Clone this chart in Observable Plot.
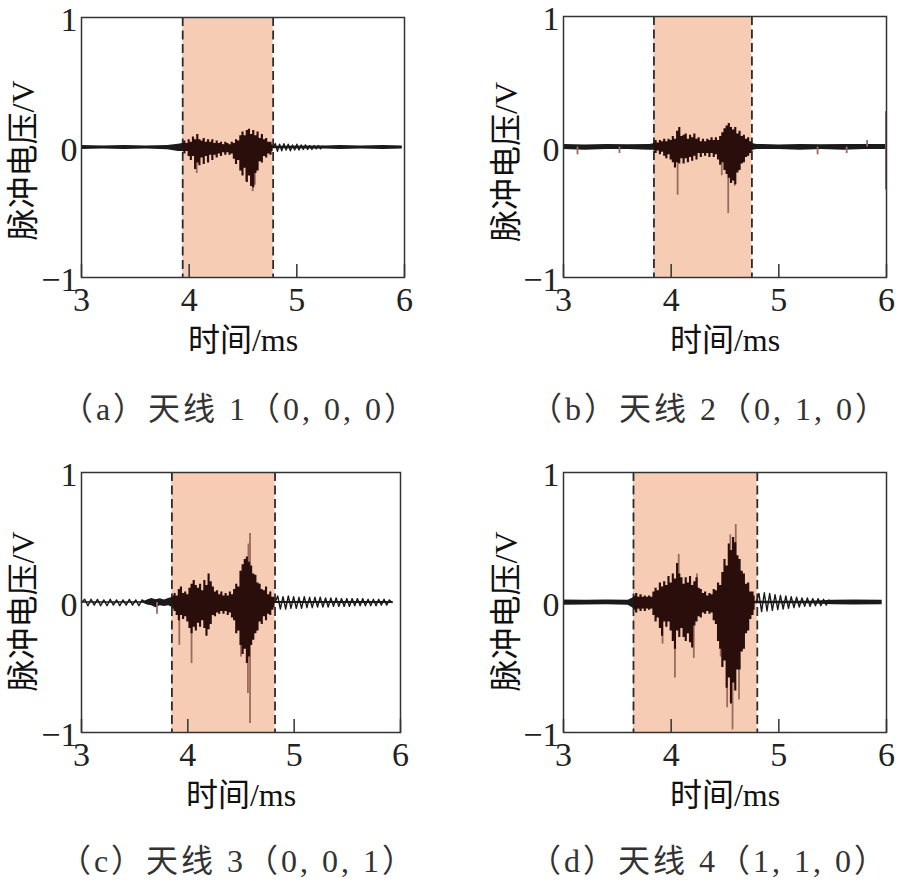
<!DOCTYPE html>
<html><head><meta charset="utf-8">
<script src="https://cdn.jsdelivr.net/npm/d3@7"></script>
<script src="https://cdn.jsdelivr.net/npm/@observablehq/plot@0.6"></script>
<style>
html,body{margin:0;padding:0;background:#fff;}
#root{position:relative;width:909px;height:886px;overflow:hidden;}
.panel{position:absolute;}
.cap{position:absolute;transform:translate(-50%,-50%);white-space:nowrap;font-family:'Liberation Serif','Noto Sans CJK SC',serif;font-size:32px;letter-spacing:3px;color:#333;}
</style></head><body><div id="root"></div>
<script>
// ---------- shared labels / ticks ----------
const xTicks = [3, 4, 5, 6];
const yTicks = [-1, 0, 1];
const xDomain = [3, 6];
const yDomain = [-1, 1];
const xLabel = "时间/ms";
const yLabel = "脉冲电压/V";
const captions = ["（a）天线 1（0, 0, 0）", "（b）天线 2（0, 1, 0）", "（c）天线 3（0, 0, 1）", "（d）天线 4（1, 1, 0）"];
const shadeStart = [3.94, 3.84, 3.85, 3.65];
const shadeEnd = [4.78, 4.75, 4.82, 4.80];

// ---------- panel (a) ----------
const aT = [3.94,3.96,3.98,4.00,4.02,4.04,4.06,4.08,4.10,4.12,4.14,4.16,4.18,4.20,4.22,4.24,4.26,4.28,4.30,4.32,4.34,4.36,4.38,4.40,4.42,4.44,4.46,4.48,4.50,4.52,4.54,4.56,4.58,4.60,4.62,4.64,4.66,4.68,4.70,4.72,4.74,4.76,4.78];
const aHi = [0.03,0.05,0.03,0.06,0.04,0.08,0.06,0.10,0.06,0.05,0.07,0.04,0.06,0.04,0.06,0.03,0.05,0.03,0.04,0.02,0.04,0.03,0.02,0.04,0.03,0.06,0.05,0.09,0.12,0.09,0.13,0.14,0.10,0.13,0.09,0.12,0.07,0.10,0.06,0.07,0.04,0.04,0.02];
const aLo = [-0.03,-0.05,-0.03,-0.07,-0.10,-0.07,-0.17,-0.12,-0.14,-0.08,-0.13,-0.07,-0.12,-0.06,-0.10,-0.06,-0.08,-0.05,-0.07,-0.04,-0.06,-0.04,-0.06,-0.05,-0.09,-0.13,-0.10,-0.18,-0.22,-0.16,-0.27,-0.22,-0.30,-0.31,-0.20,-0.18,-0.11,-0.12,-0.07,-0.08,-0.05,-0.06,-0.03];
const aBgT = [3.00,3.20,3.40,3.60,3.80,3.90,3.94,4.78,5.26,5.40,5.60,5.80,5.98];
const aBgHi = [0.015,0.012,0.015,0.012,0.015,0.025,0.03,0.01,0.012,0.015,0.012,0.015,0.012];
const aBgLo = [-0.015,-0.012,-0.015,-0.012,-0.018,-0.03,-0.03,-0.01,-0.012,-0.015,-0.012,-0.015,-0.012];
const aOscT = [4.78,4.80,4.82,4.84,4.86,4.88,4.90,4.92,4.94,4.96,4.98,5.00,5.02,5.04,5.06,5.08,5.10,5.12,5.14,5.16,5.18,5.20,5.22,5.24,5.26];
const aOscV = [0,0.03,-0.03,0.025,-0.025,0.03,-0.02,0.025,-0.025,0.02,-0.02,0.025,-0.02,0.02,-0.015,0.02,-0.015,0.015,-0.015,0.015,-0.01,0.015,-0.01,0.01,0];
const aSpikeT = [4.07, 4.53, 4.59, 4.61];
const aSpikeV = [-0.20, -0.26, -0.34, -0.29];

// ---------- panel (b) ----------
const bT = [3.84,3.86,3.88,3.90,3.92,3.94,3.96,3.98,4.00,4.02,4.04,4.06,4.08,4.10,4.12,4.14,4.16,4.18,4.20,4.22,4.24,4.26,4.28,4.30,4.32,4.34,4.36,4.38,4.40,4.42,4.44,4.46,4.48,4.50,4.52,4.54,4.56,4.58,4.60,4.62,4.64,4.66,4.68,4.70,4.72,4.74,4.76];
const bHi = [0.03,0.05,0.03,0.05,0.04,0.06,0.04,0.06,0.05,0.08,0.06,0.12,0.15,0.08,0.09,0.10,0.06,0.09,0.07,0.10,0.06,0.07,0.04,0.06,0.04,0.06,0.05,0.07,0.05,0.07,0.05,0.08,0.11,0.14,0.16,0.18,0.15,0.13,0.15,0.10,0.12,0.08,0.09,0.06,0.07,0.04,0.03];
const bLo = [-0.03,-0.05,-0.03,-0.06,-0.04,-0.07,-0.09,-0.06,-0.10,-0.12,-0.16,-0.12,-0.13,-0.09,-0.13,-0.09,-0.12,-0.08,-0.11,-0.07,-0.10,-0.05,-0.08,-0.05,-0.07,-0.05,-0.08,-0.05,-0.08,-0.06,-0.10,-0.14,-0.12,-0.18,-0.21,-0.24,-0.28,-0.26,-0.29,-0.20,-0.18,-0.13,-0.12,-0.08,-0.07,-0.05,-0.03];
const bBgT = [3.00,3.20,3.40,3.60,3.80,3.84,4.76,4.80,5.00,5.20,5.40,5.60,5.80,6.00];
const bBgHi = [0.02,0.016,0.02,0.018,0.02,0.025,0.025,0.02,0.016,0.02,0.018,0.02,0.02,0.02];
const bBgLo = [-0.02,-0.024,-0.02,-0.02,-0.024,-0.025,-0.025,-0.02,-0.02,-0.024,-0.02,-0.024,-0.02,-0.02];
const bSpikeT = [3.13, 3.52, 4.06, 4.47, 4.53, 4.59, 5.36, 5.63, 5.82, 5.995, 5.995];
const bSpikeV = [-0.06, -0.05, -0.37, -0.22, -0.51, -0.30, -0.06, -0.05, 0.05, 0.27, -0.33];

// ---------- panel (c) ----------
const cT = [3.86,3.88,3.90,3.92,3.94,3.96,3.98,4.00,4.02,4.04,4.06,4.08,4.10,4.12,4.14,4.16,4.18,4.20,4.22,4.24,4.26,4.28,4.30,4.32,4.34,4.36,4.38,4.40,4.42,4.44,4.46,4.48,4.50,4.52,4.54,4.56,4.58,4.60,4.62,4.64,4.66,4.68,4.70,4.72,4.74,4.76,4.78,4.80,4.82];
const cHi = [0.05,0.07,0.05,0.10,0.12,0.07,0.08,0.06,0.11,0.14,0.17,0.13,0.11,0.14,0.09,0.17,0.13,0.22,0.16,0.12,0.08,0.09,0.06,0.08,0.05,0.07,0.05,0.08,0.06,0.10,0.14,0.12,0.24,0.29,0.33,0.35,0.31,0.28,0.22,0.21,0.15,0.14,0.10,0.09,0.12,0.06,0.08,0.04,0.04];
const cLo = [-0.05,-0.07,-0.10,-0.14,-0.10,-0.13,-0.11,-0.15,-0.20,-0.24,-0.19,-0.22,-0.16,-0.19,-0.14,-0.20,-0.26,-0.21,-0.17,-0.10,-0.11,-0.08,-0.09,-0.07,-0.09,-0.07,-0.10,-0.08,-0.12,-0.14,-0.24,-0.22,-0.33,-0.40,-0.36,-0.47,-0.42,-0.33,-0.29,-0.24,-0.22,-0.15,-0.17,-0.11,-0.14,-0.09,-0.10,-0.06,-0.04];
const cBgT = [3.00,3.58,3.62,3.66,3.70,3.74,3.78,3.82,3.86,4.82,4.84,5.93];
const cBgHi = [0.006,0.006,0.02,0.03,0.022,0.028,0.02,0.03,0.04,0.008,0.008,0.008];
const cBgLo = [-0.006,-0.006,-0.02,-0.025,-0.04,-0.025,-0.03,-0.025,-0.04,-0.008,-0.008,-0.008];
const cPreT = [3.00,3.03,3.06,3.09,3.12,3.15,3.18,3.21,3.24,3.27,3.30,3.33,3.36,3.39,3.42,3.45,3.48,3.51,3.54,3.57,3.60];
const cPreV = [0,0.025,-0.025,0.025,-0.02,0.025,-0.025,0.02,-0.025,0.025,-0.02,0.02,-0.025,0.02,-0.02,0.025,-0.02,0.02,-0.025,0.02,0];
const cPostT = [4.82,4.845,4.87,4.895,4.92,4.945,4.97,4.995,5.02,5.045,5.07,5.095,5.12,5.145,5.17,5.195,5.22,5.245,5.27,5.295,5.32,5.345,5.37,5.395,5.42,5.445,5.47,5.495,5.52,5.545,5.57,5.595,5.62,5.645,5.67,5.695,5.72,5.745,5.77,5.795,5.82,5.845,5.87,5.895,5.92];
const cPostV = [0,0.05,-0.05,0.045,-0.05,0.05,-0.045,0.045,-0.045,0.04,-0.045,0.045,-0.04,0.04,-0.04,0.04,-0.035,0.04,-0.035,0.035,-0.035,0.035,-0.03,0.035,-0.03,0.03,-0.03,0.03,-0.03,0.03,-0.025,0.03,-0.025,0.03,-0.025,0.025,-0.025,0.025,-0.025,0.025,-0.02,0.025,-0.02,0.02,0];
const cSpikeT = [3.71, 3.92, 4.035, 4.50, 4.565, 4.585, 4.585, 4.57];
const cSpikeV = [-0.09, -0.33, -0.47, -0.42, -0.70, -0.93, 0.53, 0.45];

// ---------- panel (d) ----------
const dT = [3.66,3.68,3.70,3.72,3.74,3.76,3.78,3.80,3.82,3.84,3.86,3.88,3.90,3.92,3.94,3.96,3.98,4.00,4.02,4.04,4.06,4.08,4.10,4.12,4.14,4.16,4.18,4.20,4.22,4.24,4.26,4.28,4.30,4.32,4.34,4.36,4.38,4.40,4.42,4.44,4.46,4.48,4.50,4.52,4.54,4.56,4.58,4.60,4.62,4.64,4.66,4.68,4.70,4.72,4.74,4.76,4.78];
const dHi = [0.05,0.07,0.04,0.06,0.04,0.05,0.04,0.05,0.04,0.08,0.11,0.09,0.15,0.12,0.16,0.13,0.20,0.15,0.22,0.18,0.30,0.22,0.19,0.14,0.19,0.15,0.20,0.13,0.16,0.19,0.11,0.10,0.07,0.08,0.05,0.07,0.06,0.10,0.09,0.15,0.13,0.23,0.33,0.28,0.45,0.40,0.50,0.46,0.36,0.33,0.24,0.22,0.14,0.15,0.08,0.08,0.05];
const dLo = [-0.06,-0.08,-0.05,-0.07,-0.05,-0.07,-0.05,-0.06,-0.05,-0.10,-0.15,-0.12,-0.20,-0.26,-0.15,-0.19,-0.15,-0.22,-0.30,-0.36,-0.22,-0.27,-0.20,-0.27,-0.30,-0.24,-0.31,-0.35,-0.18,-0.15,-0.11,-0.12,-0.08,-0.09,-0.07,-0.09,-0.08,-0.14,-0.17,-0.30,-0.36,-0.50,-0.45,-0.66,-0.58,-0.78,-0.62,-0.68,-0.52,-0.52,-0.38,-0.36,-0.24,-0.22,-0.13,-0.10,-0.06];
const dBgT = [3.00,3.20,3.40,3.60,3.66,4.78,4.80,5.30,5.50,5.70,5.96];
const dBgHi = [0.02,0.018,0.02,0.018,0.04,0.01,0.01,0.01,0.018,0.02,0.018];
const dBgLo = [-0.022,-0.02,-0.018,-0.022,-0.05,-0.01,-0.01,-0.01,-0.018,-0.02,-0.018];
const dOscT = [4.79,4.815,4.84,4.865,4.89,4.915,4.94,4.965,4.99,5.015,5.04,5.065,5.09,5.115,5.14,5.165,5.19,5.215,5.24,5.265,5.29,5.315,5.34,5.365,5.39,5.415,5.44,5.465,5.49];
const dOscV = [0,0.07,-0.07,0.075,-0.065,0.07,-0.06,0.06,-0.055,0.055,-0.05,0.05,-0.045,0.045,-0.04,0.04,-0.035,0.035,-0.03,0.035,-0.03,0.03,-0.025,0.03,-0.025,0.025,-0.02,0.02,0];
const dSpikeT = [3.92, 4.035, 4.07, 4.21, 4.24, 4.46, 4.52, 4.57, 4.60, 4.55, 4.63];
const dSpikeV = [-0.32, -0.58, 0.37, -0.43, 0.22, -0.42, -0.81, -0.98, 0.60, 0.52, -0.75];

// ---------- styling / layout ----------
const FONT = "'Liberation Serif', 'Noto Sans CJK SC', serif";
const SHADE = "#f7ccb5";
const BURST = "#2a0e0b";
const SPIKE = "#9a6a5c";
const INK = "#1a1a1a";

const zip3 = (T, A, B) => T.map((t, i) => ({t, hi: A[i], lo: B[i]}));
const zip2 = (T, V) => T.map((t, i) => ({t, v: V[i]}));

const panels = [
  {left: 0, top: 0, width: 450, height: 370, ml: 81, mr: 46, mt: 17, mb: 93, ylDx: -58, ylDy: 13, cx: 240, cy: 406,
   burst: zip3(aT, aHi, aLo), bg: zip3(aBgT, aBgHi, aBgLo), osc: [zip2(aOscT, aOscV)], spikes: zip2(aSpikeT, aSpikeV)},
  {left: 450, top: 0, width: 459, height: 370, ml: 113, mr: 23, mt: 16, mb: 93, ylDx: -57, ylDy: 15, cx: 710, cy: 406,
   burst: zip3(bT, bHi, bLo), bg: zip3(bBgT, bBgHi, bBgLo), osc: [], spikes: zip2(bSpikeT, bSpikeV)},
  {left: 0, top: 440, width: 450, height: 380, ml: 81, mr: 50, mt: 32, mb: 88, ylDx: -58, ylDy: 9, cx: 238, cy: 858,
   burst: zip3(cT, cHi, cLo), bg: zip3(cBgT, cBgHi, cBgLo), osc: [zip2(cPreT, cPreV), zip2(cPostT, cPostV)], spikes: zip2(cSpikeT, cSpikeV)},
  {left: 450, top: 440, width: 459, height: 380, ml: 113, mr: 23, mt: 32, mb: 88, ylDx: -57, ylDy: 9, cx: 709, cy: 858,
   burst: zip3(dT, dHi, dLo), bg: zip3(dBgT, dBgHi, dBgLo), osc: [zip2(dOscT, dOscV)], spikes: zip2(dSpikeT, dSpikeV)}
];

const root = document.getElementById("root");
panels.forEach((p, k) => {
  const plotH = p.height - p.mt - p.mb;
  const shade = [{s: shadeStart[k], e: shadeEnd[k]}];
  const chart = Plot.plot({
    width: p.width, height: p.height,
    marginLeft: p.ml, marginRight: p.mr, marginTop: p.mt, marginBottom: p.mb,
    style: {fontFamily: FONT, fontSize: "34px", color: "#222", background: "transparent", overflow: "visible"},
    x: {domain: xDomain, ticks: xTicks},
    y: {domain: yDomain, ticks: yTicks},
    marks: [
      Plot.rect(shade, {x1: "s", x2: "e", y1: () => yDomain[0], y2: () => yDomain[1], fill: SHADE}),
      Plot.ruleX([shade[0].s, shade[0].e], {x: d => d, stroke: "#2b2b2b", strokeWidth: 1.8, strokeDasharray: "9,4.5"}),
      Plot.areaY(p.bg, {x: "t", y1: "lo", y2: "hi", fill: INK}),
      ...p.osc.map(o => Plot.line(o, {x: "t", y: "v", stroke: INK, strokeWidth: 1.4})),
      Plot.ruleX(p.spikes, {x: "t", y1: () => 0, y2: "v", stroke: SPIKE, strokeWidth: 1.8}),
      Plot.areaY(p.burst, {x: "t", y1: "lo", y2: "hi", fill: BURST, curve: "step"}),
      Plot.tickX(xTicks, {x: d => d, insetTop: plotH - 13, stroke: "#333", strokeWidth: 1.5}),
      Plot.frame({stroke: "#333", strokeWidth: 1.5}),
      Plot.axisX({ticks: xTicks, tickSize: 0, tickPadding: 9, label: null, tickFormat: d => String(d)}),
      Plot.axisY({ticks: yTicks, tickSize: 0, tickPadding: 4, dy: 3, label: null, tickFormat: d => d < 0 ? "−" + Math.abs(d) : String(d)}),
      Plot.text([xLabel], {frameAnchor: "bottom", dy: 63, lineAnchor: "middle", textAnchor: "middle", text: d => d, fontSize: 32, fill: "#111"}),
      Plot.text([yLabel], {frameAnchor: "left", dx: p.ylDx, dy: p.ylDy, rotate: -90, lineAnchor: "middle", textAnchor: "middle", text: d => d, fontSize: 32, fill: "#111"})
    ]
  });
  const wrap = document.createElement("div");
  wrap.className = "panel";
  wrap.style.left = p.left + "px";
  wrap.style.top = p.top + "px";
  wrap.appendChild(chart);
  root.appendChild(wrap);
  const cap = document.createElement("div");
  cap.className = "cap";
  cap.style.left = p.cx + "px";
  cap.style.top = p.cy + "px";
  cap.textContent = captions[k];
  root.appendChild(cap);
});
</script></body></html>
